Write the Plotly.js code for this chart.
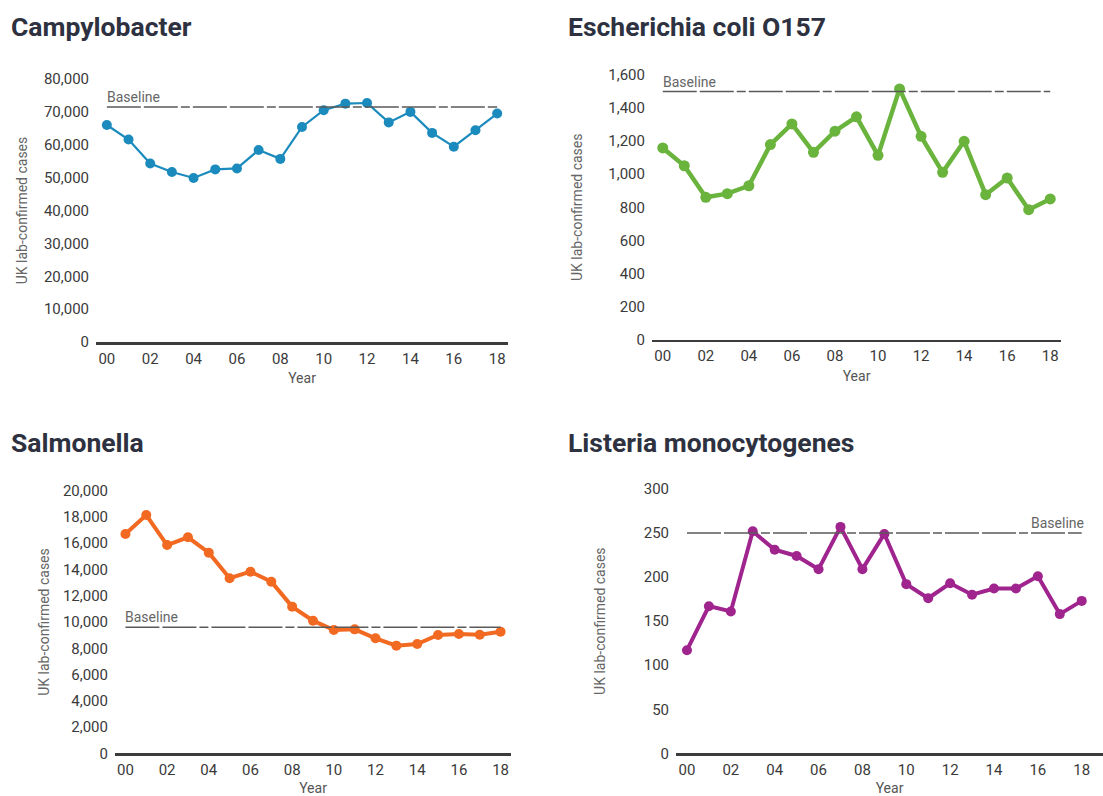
<!DOCTYPE html>
<html>
<head>
<meta charset="utf-8">
<script src="https://cdn.plot.ly/plotly-3.0.1.min.js"></script>
<style>
  html, body { margin: 0; padding: 0; background: #ffffff; }
  #chart { width: 1103px; height: 796px; }
</style>
</head>
<body>
<div id="chart"></div>
<script>
// ---- Data ----
const years = ['00','01','02','03','04','05','06','07','08','09','10','11','12','13','14','15','16','17','18'];
const tickYears = ['00','02','04','06','08','10','12','14','16','18'];

const titles = ['Campylobacter', 'Escherichia coli O157', 'Salmonella', 'Listeria monocytogenes'];
const yAxisTitle = 'UK lab-confirmed cases';
const xAxisTitle = 'Year';
const baselineLabel = 'Baseline';

const campylobacter = [66000, 61600, 54300, 51700, 49900, 52500, 52800, 58400, 55700, 65400, 70500, 72500, 72700, 66800, 70000, 63600, 59400, 64400, 69500];
const ecoli = [1159, 1051, 860, 882, 930, 1179, 1304, 1132, 1260, 1347, 1114, 1516, 1229, 1011, 1199, 876, 977, 785, 850];
const salmonella = [16700, 18150, 15860, 16450, 15280, 13330, 13830, 13070, 11170, 10100, 9390, 9440, 8760, 8200, 8320, 9010, 9090, 9030, 9260];
const listeria = [117, 167, 161, 252, 231, 224, 209, 257, 209, 249, 192, 176, 193, 180, 187, 187, 201, 158, 173];

const campylobacterBaseline = 71500;
const ecoliBaseline = 1500;
const salmonellaBaseline = 9600;
const listeriaBaseline = 250;

// ---- Styling / layout helpers ----
const W = 1103, H = 796;
const fx = px => px / W;
const fy = px => 1 - px / H;

const FONT = 'Roboto, "Open Sans", Arial, sans-serif';
const TICK_COLOR = '#3a3a3a';
const TITLE_GRAY = '#666666';
const BASE_COLOR = '#5a5a5a';
const BASE_DASH = '34px,3px,34px,3px,9px,3px';

const panels = [
  { data: campylobacter, base: campylobacterBaseline, color: '#1b8bbd', lw: 2.2, ms: 10,
    xd: [96, 508], yd: [342, 79], yr: [0, 80000], dt: 10000, xr: [-0.5, 18.5],
    ystand: 12, baseAnchor: 'left', title: titles[0], tx: 9, ty: 27 },
  { data: ecoli, base: ecoliBaseline, color: '#6ab43e', lw: 4.5, ms: 11,
    xd: [652, 1061], yd: [339.5, 75], yr: [0, 1600], dt: 200, xr: [-0.5, 18.5],
    ystand: 22, baseAnchor: 'left', title: titles[1], tx: 566, ty: 27 },
  { data: salmonella, base: salmonellaBaseline, color: '#f26a21', lw: 4, ms: 10,
    xd: [115, 511], yd: [753.3, 490.7], yr: [0, 20000], dt: 2000, xr: [-0.5, 18.5],
    ystand: 9, baseAnchor: 'left', title: titles[2], tx: 9, ty: 442 },
  { data: listeria, base: listeriaBaseline, color: '#a0248e', lw: 4, ms: 10,
    xd: [676, 1103], yd: [753.3, 489], yr: [0, 300], dt: 50, xr: [-0.5, 18.97],
    ystand: 34, baseAnchor: 'right', title: titles[3], tx: 566, ty: 442 }
];

const traces = [];
const layout = {
  width: W, height: H,
  margin: { l: 0, r: 0, t: 0, b: 0 },
  paper_bgcolor: '#ffffff',
  plot_bgcolor: 'rgba(0,0,0,0)',
  showlegend: false,
  font: { family: FONT, color: TICK_COLOR },
  annotations: []
};

panels.forEach((p, i) => {
  const n = i + 1;
  const xa = 'x' + (n === 1 ? '' : n);
  const ya = 'y' + (n === 1 ? '' : n);

  // series
  traces.push({
    type: 'scatter', mode: 'lines+markers',
    x: years, y: p.data,
    xaxis: xa, yaxis: ya,
    line: { color: p.color, width: p.lw },
    marker: { color: p.color, size: p.ms },
    cliponaxis: false,
    name: p.title
  });
  // baseline (dashed)
  traces.push({
    type: 'scatter', mode: 'lines',
    x: [years[0], years[years.length - 1]], y: [p.base, p.base],
    xaxis: xa, yaxis: ya,
    line: { color: BASE_COLOR, width: 1.6, dash: BASE_DASH },
    hoverinfo: 'skip'
  });

  layout['xaxis' + (n === 1 ? '' : n)] = {
    type: 'category',
    categoryorder: 'array',
    categoryarray: years,
    domain: [fx(p.xd[0]), fx(p.xd[1])],
    anchor: ya,
    range: p.xr,
    tickvals: tickYears,
    ticktext: tickYears,
    showgrid: false, zeroline: false,
    showline: true, linecolor: '#3c3c3c', linewidth: 2.5,
    ticks: '',
    ticklabelstandoff: 1,
    tickfont: { family: FONT, size: 15, color: TICK_COLOR },
    title: { text: xAxisTitle, font: { family: FONT, size: 14, color: '#555555' }, standoff: 7 },
    fixedrange: true
  };
  layout['yaxis' + (n === 1 ? '' : n)] = {
    domain: [fy(p.yd[0]), fy(p.yd[1])],
    anchor: xa,
    range: p.yr,
    dtick: p.dt, tick0: 0,
    tickformat: ',d',
    showgrid: false, zeroline: false, showline: false,
    ticks: '',
    ticklabelstandoff: 6,
    tickfont: { family: FONT, size: 15, color: TICK_COLOR },
    title: { text: yAxisTitle, font: { family: FONT, size: 14, color: TITLE_GRAY }, standoff: p.ystand },
    fixedrange: true
  };

  // panel title
  layout.annotations.push({
    xref: 'paper', yref: 'paper',
    x: fx(p.tx), y: fy(p.ty),
    xanchor: 'left', yanchor: 'middle',
    text: '<b>' + p.title + '</b>',
    showarrow: false,
    font: { family: FONT, size: 26.5, color: '#2d3140' }
  });
  // baseline label
  layout.annotations.push({
    xref: xa, yref: ya,
    x: p.baseAnchor === 'left' ? years[0] : years[years.length - 1],
    y: p.base,
    xanchor: p.baseAnchor, yanchor: 'bottom',
    xshift: p.baseAnchor === 'left' ? -2 : 4,
    yshift: 0,
    text: baselineLabel,
    showarrow: false,
    font: { family: FONT, size: 14, color: TITLE_GRAY }
  });
});

Plotly.newPlot('chart', traces, layout, { displayModeBar: false, staticPlot: true });
</script>
</body>
</html>
